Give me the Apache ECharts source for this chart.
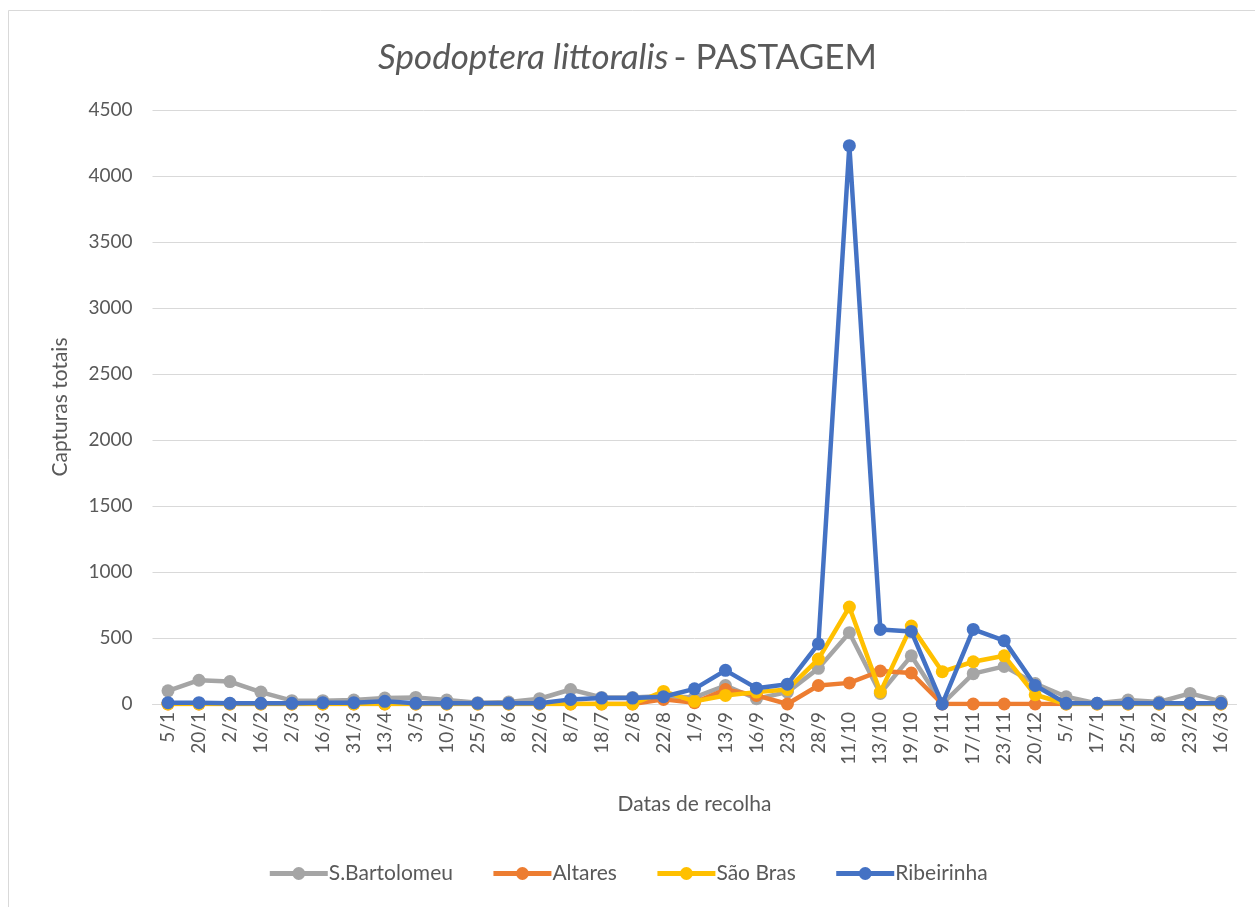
<!DOCTYPE html>
<html>
<head>
<meta charset="utf-8">
<script src="https://cdn.jsdelivr.net/npm/echarts@6/dist/echarts.min.js"></script>
<style>
html, body { margin: 0; padding: 0; background: #fff; }
#chart { width: 1255px; height: 907px; }
</style>
</head>
<body>
<div id="chart"></div>
<script>
// datas de recolha
var datas = ['5/1', '20/1', '2/2', '16/2', '2/3', '16/3', '31/3', '13/4', '3/5', '10/5', '25/5', '8/6', '22/6',
    '8/7', '18/7', '2/8', '22/8', '1/9', '13/9', '16/9', '23/9', '28/9', '11/10', '13/10', '19/10', '9/11',
    '17/11', '23/11', '20/12', '5/1', '17/1', '25/1', '8/2', '23/2', '16/3'];

var sBartolomeu = [100, 180, 170, 90, 25, 25, 30, 45, 50, 30, 10, 15, 40,
    110, 50, 50, 60, 50, 140, 40, 90, 270, 540, 80, 365, 0,
    230, 285, 155, 55, 5, 30, 15, 80, 20];
var altares = [0, 0, 0, 0, 0, 0, 0, 0, 0, 0, 0, 0, 0,
    0, 0, 0, 35, 10, 110, 65, 0, 140, 160, 250, 235, 0,
    0, 0, 0, 0, 0, 0, 0, 0, 0];
var saoBras = [0, 0, 0, 0, 0, 0, 0, 0, 0, 0, 0, 0, 0,
    0, 0, 0, 95, 20, 65, 90, 110, 340, 735, 90, 590, 245,
    320, 365, 70, 0, 0, 0, 0, 0, 0];
var ribeirinha = [10, 10, 5, 5, 5, 10, 10, 20, 5, 5, 5, 5, 5,
    35, 45, 45, 55, 115, 255, 120, 150, 455, 4230, 565, 550, 0,
    565, 480, 140, 5, 5, 5, 5, 5, 5];

var nomes = ['S.Bartolomeu', 'Altares', 'São Bras', 'Ribeirinha'];
var cores = ['#A5A5A5', '#ED7D31', '#FFC000', '#4472C4'];
var valores = [sBartolomeu, altares, saoBras, ribeirinha];

var fonte = 'Lato, "Open Sans", sans-serif';
var chart = echarts.init(document.getElementById('chart'));

var series = nomes.map(function (n, i) {
    return {
        type: 'line',
        name: n,
        data: valores[i],
        symbol: 'circle',
        symbolSize: 13,
        lineStyle: { width: 4.5, color: cores[i] },
        itemStyle: { color: cores[i] },
        z: 2 + i
    };
});

chart.setOption({
    animation: false,
    backgroundColor: '#fff',
    graphic: [{
        type: 'rect',
        shape: { x: 8.5, y: 10.5, width: 1260, height: 900 },
        style: { fill: 'none', stroke: '#d9d9d9', lineWidth: 1 }
    }],
    title: {
        text: '{i|Spodoptera littoralis} {n|- PASTAGEM}',
        left: 'center',
        top: 35,
        textStyle: {
            rich: {
                i: { fontFamily: fonte, fontSize: 35, fontStyle: 'italic', fontWeight: 'normal', color: '#595959' },
                n: { fontFamily: fonte, fontSize: 35, fontWeight: 'normal', color: '#595959' }
            }
        }
    },
    grid: { left: 152.5, right: 18.5, top: 110, bottom: 203, containLabel: false },
    xAxis: {
        type: 'category',
        data: datas,
        boundaryGap: true,
        name: 'Datas de recolha',
        nameLocation: 'middle',
        nameGap: 90,
        nameTextStyle: { fontFamily: fonte, fontSize: 21, color: '#595959' },
        axisLine: { lineStyle: { color: '#d9d9d9', width: 1 } },
        axisTick: { show: false },
        axisLabel: {
            interval: 0,
            rotate: 90,
            margin: 8,
            fontFamily: fonte,
            fontSize: 19,
            color: '#595959'
        }
    },
    yAxis: {
        type: 'value',
        min: 0,
        max: 4500,
        interval: 500,
        name: 'Capturas totais',
        nameLocation: 'middle',
        nameGap: 82,
        nameTextStyle: { fontFamily: fonte, fontSize: 21, color: '#595959' },
        axisLine: { show: false },
        axisTick: { show: false },
        splitLine: { lineStyle: { color: '#d9d9d9', width: 1 } },
        axisLabel: {
            fontFamily: fonte, fontSize: 19, color: '#595959', margin: 20,
            formatter: function (v) { return String(v); }
        }
    },
    legend: {
        bottom: 18,
        left: 'center',
        itemWidth: 58,
        itemHeight: 16,
        itemGap: 38,
        lineStyle: { width: 5 },
        textStyle: { fontFamily: fonte, fontSize: 21, color: '#595959', padding: [0, 0, 0, -4] },
        data: nomes
    },
    series: series
});
</script>
</body>
</html>
